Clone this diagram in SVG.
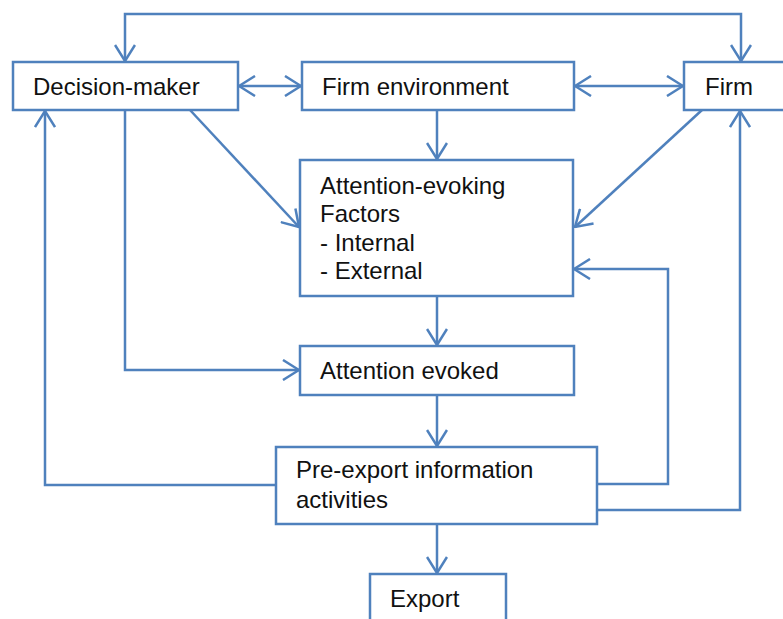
<svg xmlns="http://www.w3.org/2000/svg" width="783" height="619" viewBox="0 0 783 619">
<style>
.box{fill:#fff;stroke:#4f81bd;stroke-width:2.5}
.c{fill:none;stroke:#4f81bd;stroke-width:2.5}
.t{font-family:"Liberation Sans",Arial,sans-serif;font-size:24px;fill:#111}
</style>
<defs>
<marker id="a" viewBox="0 0 18 22" refX="17" refY="11" markerWidth="18" markerHeight="22" markerUnits="userSpaceOnUse" orient="auto-start-reverse">
<path d="M1,1 L17,11 L1,21" fill="none" stroke="#4f81bd" stroke-width="2.5"/>
</marker>
</defs>
<g id="connectors">
<path class="c" d="M125,61 V14 H741 V61" marker-start="url(#a)" marker-end="url(#a)"/>
<path class="c" d="M239,86 H301" marker-start="url(#a)" marker-end="url(#a)"/>
<path class="c" d="M575,86 H683" marker-start="url(#a)" marker-end="url(#a)"/>
<path class="c" d="M437,110 V159" marker-end="url(#a)"/>
<path class="c" d="M190,110 L299,227" marker-end="url(#a)"/>
<path class="c" d="M702,110 L575,227" marker-end="url(#a)"/>
<path class="c" d="M125,110 V370 H299" marker-end="url(#a)"/>
<path class="c" d="M437,296 V345" marker-end="url(#a)"/>
<path class="c" d="M437,395 V446" marker-end="url(#a)"/>
<path class="c" d="M437,524 V573" marker-end="url(#a)"/>
<path class="c" d="M276,485 H45 V111" marker-end="url(#a)"/>
<path class="c" d="M597,484 H668 V269 H574" marker-end="url(#a)"/>
<path class="c" d="M597,510 H740 V111" marker-end="url(#a)"/>
</g>
<g id="decision-maker">
<rect class="box" x="13" y="62" width="225" height="48"/>
<text class="t" x="33" y="95">Decision-maker</text>
</g>
<g id="firm-environment">
<rect class="box" x="302" y="62" width="272" height="48"/>
<text class="t" x="322" y="95">Firm environment</text>
</g>
<g id="firm">
<rect class="box" x="684" y="62" width="110" height="48"/>
<text class="t" x="705" y="95">Firm</text>
</g>
<g id="attention-evoking-factors">
<rect class="box" x="300" y="160" width="273" height="136"/>
<text class="t" x="320" y="194">Attention-evoking</text>
<text class="t" x="320" y="222">Factors</text>
<text class="t" x="320" y="251">- Internal</text>
<text class="t" x="320" y="279">- External</text>
</g>
<g id="attention-evoked">
<rect class="box" x="300" y="346" width="274" height="49"/>
<text class="t" x="320" y="379">Attention evoked</text>
</g>
<g id="pre-export">
<rect class="box" x="276" y="447" width="321" height="77"/>
<text class="t" x="296" y="478">Pre-export information</text>
<text class="t" x="296" y="508">activities</text>
</g>
<g id="export">
<rect class="box" x="370" y="574" width="136" height="60"/>
<text class="t" x="390" y="607">Export</text>
</g>
</svg>
